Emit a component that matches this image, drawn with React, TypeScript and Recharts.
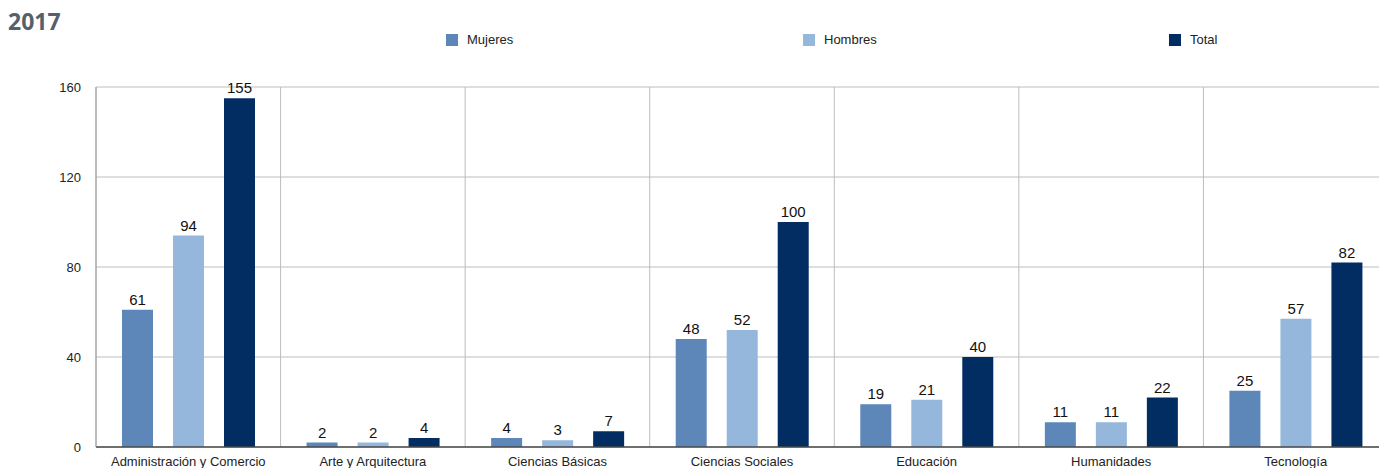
import React from "react";
import {
  BarChart,
  Bar,
  XAxis,
  YAxis,
  CartesianGrid,
  LabelList,
} from "recharts";

const areas = [
  "Administración y Comercio",
  "Arte y Arquitectura",
  "Ciencias Básicas",
  "Ciencias Sociales",
  "Educación",
  "Humanidades",
  "Tecnología",
];
const mujeres = [61, 2, 4, 48, 19, 11, 25];
const hombres = [94, 2, 3, 52, 21, 11, 57];
const totales = [155, 4, 7, 100, 40, 22, 82];
const yTicks = [0, 40, 80, 120, 160];

const series = [
  { key: "mujeres", name: "Mujeres", color: "#5d86b9" },
  { key: "hombres", name: "Hombres", color: "#95b7db" },
  { key: "total", name: "Total", color: "#012d63" },
];

const data = areas.map((area, i) => ({
  area,
  mujeres: mujeres[i],
  hombres: hombres[i],
  total: totales[i],
}));

const FONT = '"Liberation Sans", Arial, Helvetica, sans-serif';

// legend items sit at fixed spots across the top like in the original
const legendLeft = [446, 803, 1169];

function TopLegend() {
  return (
    <div style={{ position: "absolute", left: 0, top: 33, width: 1379, height: 14 }}>
      {series.map((s, i) => (
        <div
          key={s.key}
          style={{
            position: "absolute",
            left: legendLeft[i],
            top: 0,
            display: "flex",
            alignItems: "center",
            fontFamily: FONT,
            fontSize: 13,
            lineHeight: "14px",
            color: "#222",
          }}
        >
          <span
            style={{
              display: "inline-block",
              width: 12,
              height: 12,
              background: s.color,
              marginRight: 9,
            }}
          />
          {s.name}
        </div>
      ))}
    </div>
  );
}

export default function App() {
  return (
    <div
      style={{
        position: "absolute",
        left: 0,
        top: 0,
        width: 1379,
        height: 468,
        overflow: "hidden",
        background: "#fff",
      }}
    >
      <div
        style={{
          position: "absolute",
          left: 8,
          top: 5,
          fontFamily: '"Open Sans", sans-serif',
          fontWeight: 700,
          fontSize: 23,
          color: "#55606d",
        }}
      >
        2017
      </div>
      <TopLegend />
      <div style={{ position: "absolute", left: 0, top: 0 }}>
        <BarChart
          width={1400}
          height={480}
          data={data}
          margin={{ top: 87, right: 12, left: 0, bottom: 0 }}
          barSize={31}
          barGap={20}
        >
          <CartesianGrid
            stroke="#bdbdbd"
            verticalCoordinatesGenerator={({ offset }: any) =>
              areas.map((_, i) => offset.left + (i * offset.width) / areas.length)
            }
          />
          <XAxis
            dataKey="area"
            height={33}
            tickLine={false}
            axisLine={{ stroke: "#4a4a4a", strokeWidth: 1.5 }}
            tickMargin={4}
            interval={0}
            tick={{ fontFamily: FONT, fontSize: 13, fill: "#222" }}
          />
          <YAxis
            width={96}
            domain={[0, 160]}
            ticks={yTicks}
            tickLine={false}
            tickSize={0}
            tickMargin={15}
            axisLine={{ stroke: "#9a9a9a" }}
            tick={{ fontFamily: FONT, fontSize: 13, fill: "#222" }}
          />
          {series.map((s) => (
            <Bar
              key={s.key}
              dataKey={s.key}
              name={s.name}
              fill={s.color}
              isAnimationActive={false}
            >
              <LabelList
                dataKey={s.key}
                position="top"
                offset={5}
                style={{ fontFamily: FONT, fontSize: 15, fill: "#111" }}
              />
            </Bar>
          ))}
        </BarChart>
      </div>
    </div>
  );
}
